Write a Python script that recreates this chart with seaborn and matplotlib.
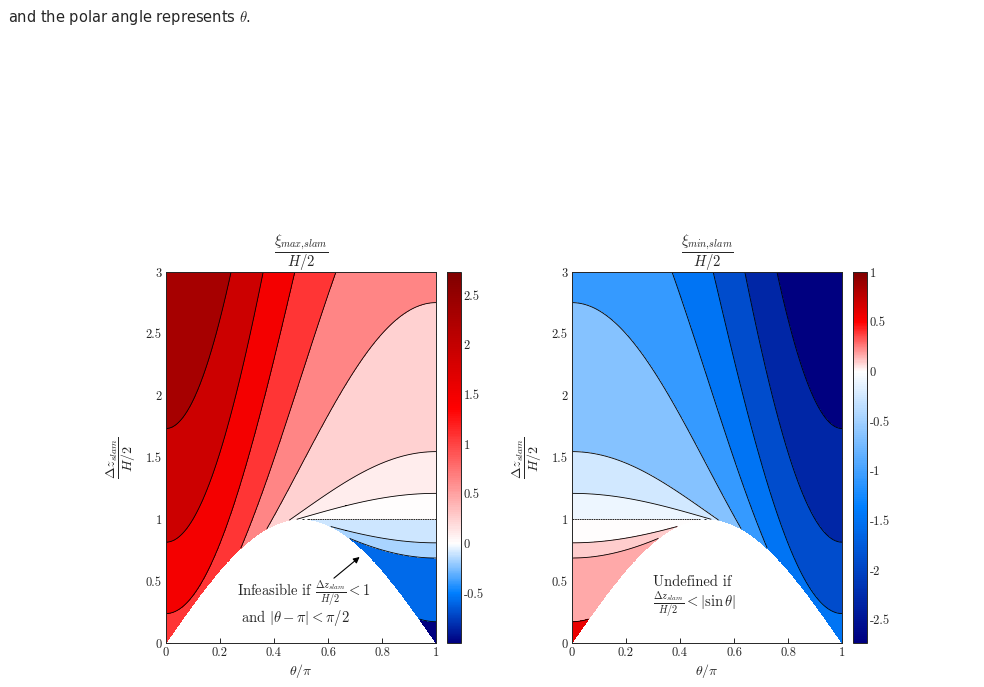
import numpy as np
import matplotlib
matplotlib.use("Agg")
import matplotlib.pyplot as plt
import matplotlib.colors as mcolors
import matplotlib.cm as cm
import seaborn as sns

# ----------------------------------------------------------
# data
# ----------------------------------------------------------
theta_ticks = [0, 0.2, 0.4, 0.6, 0.8, 1]
z_ticks = [0, 0.5, 1, 1.5, 2, 2.5, 3]

# contour levels (first/last entries = colour limits)
levels_max = [-1.0001, -0.585, -0.171, -0.1, 0.0, 0.1, 0.244, 0.659,
              1.073, 1.488, 1.903, 2.317, 2.7321]
levels_min = [-2.7321, -2.317, -1.903, -1.488, -1.073, -0.659, -0.244,
              -0.1, 0.0, 0.1, 0.171, 0.585, 1.0001]
cbar_ticks_max = [-0.5, 0, 0.5, 1, 1.5, 2, 2.5]
cbar_ticks_min = [-2.5, -2, -1.5, -1, -0.5, 0, 0.5, 1]

# ----------------------------------------------------------
# style
# ----------------------------------------------------------
sns.set_style("ticks")
plt.rcParams["font.family"] = ["cmr10", "DejaVu Serif"]
plt.rcParams["mathtext.fontset"] = "cm"
plt.rcParams["axes.unicode_minus"] = False
plt.rcParams["axes.formatter.use_mathtext"] = True
plt.rcParams["xtick.direction"] = "in"
plt.rcParams["ytick.direction"] = "in"

cmap = sns.blend_palette(["#000080", "#0080ff", "#ffffff", "#ff0000", "#800000"],
                         n_colors=256, as_cmap=True)

# ----------------------------------------------------------
# field on grid
# ----------------------------------------------------------
tp = np.linspace(0, 1, 901)
zz = np.linspace(0, 3, 901)
T, Z = np.meshgrid(tp, zz)
th = np.pi * T
root = np.sqrt(np.clip(Z - np.sin(th) ** 2, 0, None))
mask = Z < np.sin(th)
xi_max = np.ma.masked_where(mask, np.cos(th) + root)
xi_min = np.ma.masked_where(mask, np.cos(th) - root)

fig = plt.figure(figsize=(9.84, 6.87), dpi=100)
fig.text(0.008, 0.968, r"and the polar angle represents $\theta$.",
         family="DejaVu Sans", fontsize=10.5, va="baseline")

W = 984.0
H = 687.0
panels = [
    (166, 447, xi_max, levels_max, cbar_ticks_max, r"$\dfrac{\xi_{max{,}slam}}{H/2}$"),
    (572, 853, xi_min, levels_min, cbar_ticks_min, r"$\dfrac{\xi_{min{,}slam}}{H/2}$"),
]

axes = []
for x0, cx0, F, lv, cbt, ttl in panels:
    ax = fig.add_axes([x0 / W, 1 - 643 / H, 270 / W, 371 / H])
    cax = fig.add_axes([cx0 / W, 1 - 643 / H, 14 / W, 371 / H])
    norm = mcolors.TwoSlopeNorm(vmin=lv[0], vcenter=0, vmax=lv[-1])
    band_colors = [cmap(norm(v)) for v in lv[:-1]]
    ax.contourf(T, Z, F, levels=lv, colors=band_colors)
    inner = lv[1:-1]
    styles = ["solid" if v != 0 else (0, (2, 0.8)) for v in inner]
    ax.contour(T, Z, F, levels=inner, colors="k", linewidths=0.6,
               linestyles=styles)
    ax.set_xlim(0, 1)
    ax.set_ylim(0, 3)
    ax.set_xticks(theta_ticks)
    ax.set_xticklabels([f"{v:g}" for v in theta_ticks])
    ax.set_yticks(z_ticks)
    ax.set_yticklabels([f"{v:g}" for v in z_ticks])
    ax.tick_params(top=True, right=True, length=3.5, width=0.7, labelsize=9,
                   pad=3, colors="#262626")
    for s in ax.spines.values():
        s.set_linewidth(0.7)
        s.set_color("#262626")
    ax.set_xlabel(r"$\theta/\pi$", fontsize=10, labelpad=2)
    ax.set_ylabel(r"$\dfrac{\Delta z_{slam}}{H/2}$", fontsize=10, labelpad=6)
    ax.set_title(ttl, fontsize=10.5, pad=11)

    # linear colourbar axis, colours squeezed so white sits at zero
    vals = np.linspace(lv[0], lv[-1], 512)
    lin_cmap = mcolors.ListedColormap([cmap(norm(v)) for v in vals])
    lin_norm = mcolors.Normalize(vmin=lv[0], vmax=lv[-1])
    cb = fig.colorbar(cm.ScalarMappable(norm=lin_norm, cmap=lin_cmap), cax=cax)
    cb.set_ticks(cbt)
    cb.set_ticklabels([f"{v:g}" for v in cbt])
    cb.ax.tick_params(direction="in", length=3, width=0.7, labelsize=9, pad=2,
                      colors="#262626")
    cb.outline.set_linewidth(0.7)
    axes.append(ax)

ax1, ax2 = axes
ax1.annotate("", xy=(0.725, 0.71), xytext=(0.614, 0.51),
             arrowprops=dict(arrowstyle="-|>", color="k", lw=0.8,
                             mutation_scale=9))
ax1.text(0.51, 0.40, r"Infeasible if $\frac{\Delta z_{slam}}{H/2} < 1$",
         ha="center", va="center", fontsize=10.5)
ax1.text(0.48, 0.205, r"and $|\theta - \pi| < \pi/2$",
         ha="center", va="center", fontsize=10.5)

ax2.text(0.30, 0.49, "Undefined if", ha="left", va="center", fontsize=10.5)
ax2.text(0.30, 0.31, r"$\frac{\Delta z_{slam}}{H/2} < |\sin\theta|$",
         ha="left", va="center", fontsize=10.5)

fig.savefig("out.png", dpi=100)
